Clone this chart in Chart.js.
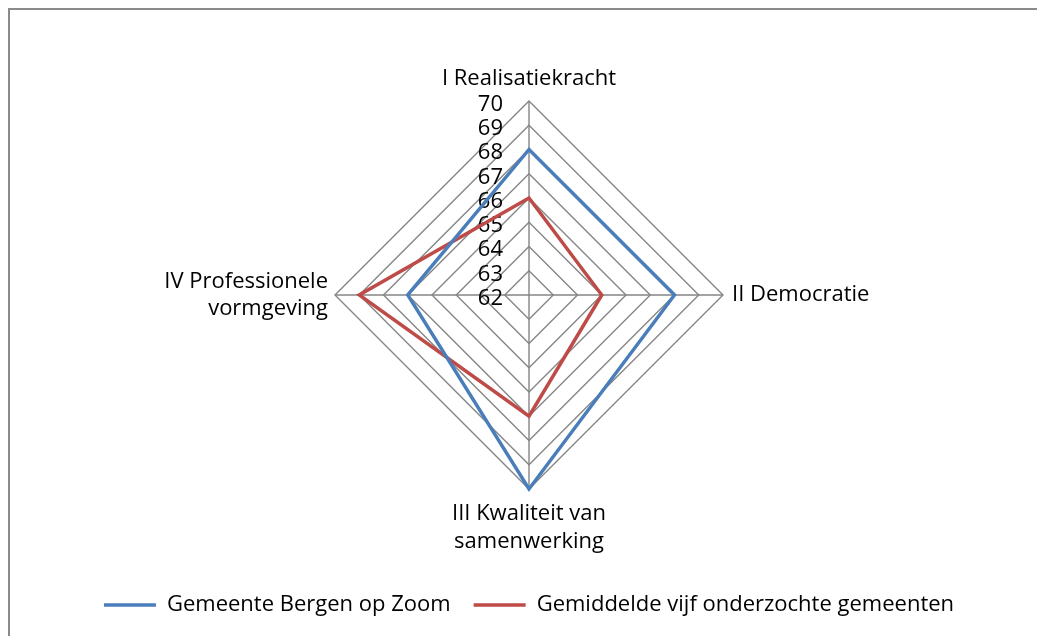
<!DOCTYPE html>
<html>
<head>
<meta charset="utf-8">
<script src="https://cdn.jsdelivr.net/npm/chart.js@4/dist/chart.umd.min.js"></script>
<style>
  html, body { margin: 0; padding: 0; background: #fff; overflow: hidden; }
  #frame { position: absolute; left: 8px; top: 8px; width: 1100px; height: 700px; border: 2px solid #8a8a8a; box-sizing: border-box; }
  #wrap { position: absolute; left: 0; top: 0; width: 1037px; height: 636px; }
</style>
</head>
<body>
<div id="frame"></div>
<div id="wrap"><canvas id="c"></canvas></div>
<script>
// ---- data ----
const categories = [
  'I Realisatiekracht',
  'II Democratie',
  ['III Kwaliteit van', 'samenwerking'],
  ['IV Professionele', 'vormgeving']
];
const seriesNames = ['Gemeente Bergen op Zoom', 'Gemiddelde vijf onderzochte gemeenten'];
const bergenValues = [68, 68, 70, 67];
const averageValues = [66, 65, 67, 69];
const tickMin = 62;
const tickMax = 70;
const tickStep = 1;

// ---- style ----
const FONT = '"Open Sans", "Noto Sans", sans-serif';
const FONT_SIZE = 22;
const colors = ['#4A7EBB', '#BE4B48'];
const gridColor = '#858585';
const labelPad = [8.25, 9, 11, 7];

const tickLabelPlugin = {
  id: 'tickLabels',
  beforeDatasetsDraw(chart) {
    const s = chart.scales.r;
    const ctx = chart.ctx;
    ctx.save();
    ctx.font = FONT_SIZE + 'px ' + FONT;
    ctx.fillStyle = '#000';
    ctx.textAlign = 'right';
    ctx.textBaseline = 'middle';
    s.ticks.forEach(t => {
      const d = s.getDistanceFromCenterForValue(t.value);
      ctx.fillText(t.label !== undefined ? t.label : String(t.value), s.xCenter - 26, s.yCenter - d + 3.5);
    });
    ctx.restore();
  }
};

new Chart(document.getElementById('c'), {
  type: 'radar',
  data: {
    labels: categories,
    datasets: [
      { label: seriesNames[0], data: bergenValues, borderColor: colors[0], backgroundColor: colors[0], borderWidth: 3.5, pointRadius: 0, fill: false, tension: 0 },
      { label: seriesNames[1], data: averageValues, borderColor: colors[1], backgroundColor: colors[1], borderWidth: 3.5, pointRadius: 0, fill: false, tension: 0 }
    ]
  },
  options: {
    responsive: true,
    maintainAspectRatio: false,
    animation: false,
    devicePixelRatio: 1,
    layout: { padding: { top: 51, left: 30, right: 9, bottom: 10 } },
    scales: {
      r: {
        min: tickMin,
        max: tickMax,
        beginAtZero: false,
        ticks: { stepSize: tickStep, display: false },
        grid: { color: gridColor, lineWidth: 1.4, circular: false },
        angleLines: { color: gridColor, lineWidth: 1.4 },
        pointLabels: {
          display: true,
          color: '#000',
          font: { family: FONT, size: FONT_SIZE, lineHeight: 1.25 },
          padding: (ctx) => labelPad[ctx.index]
        }
      }
    },
    plugins: {
      tooltip: { enabled: false },
      legend: {
        position: 'bottom',
        labels: {
          color: '#000',
          font: { family: FONT, size: FONT_SIZE },
          boxWidth: 52,
          boxHeight: 3.5,
          padding: 23,
          generateLabels: (chart) => Chart.defaults.plugins.legend.labels.generateLabels(chart).map(l => Object.assign({}, l, { fillStyle: l.strokeStyle, lineWidth: 0 }))
        }
      }
    }
  },
  plugins: [tickLabelPlugin]
});
</script>
</body>
</html>
